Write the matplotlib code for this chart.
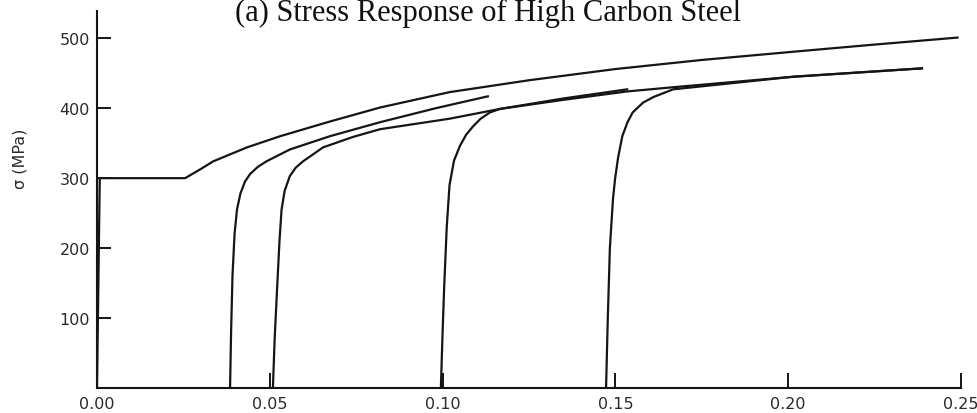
import matplotlib.pyplot as plt

# Curva monotônica (escoamento com patamar e encruamento)
eps_mono = [0.0, 0.0008, 0.0255, 0.0300, 0.0336, 0.0434, 0.0530, 0.0674,
            0.0819, 0.1020, 0.1250, 0.1500, 0.1750, 0.2020, 0.2250, 0.2490]
sig_mono = [0, 300, 300, 313, 324, 344, 360, 381,
            401, 423, 440, 456, 469, 481, 491, 501]

# Recarregamentos após pré-deformação
eps_a = [0.0385, 0.0388, 0.0392, 0.0398, 0.0405, 0.0415, 0.0428, 0.0443,
         0.0465, 0.0490, 0.0558, 0.0674, 0.0819, 0.0980, 0.1131]
sig_a = [0, 80, 160, 220, 255, 278, 295, 306,
         316, 324, 341, 360, 380, 400, 417]

eps_b = [0.0509, 0.0514, 0.0521, 0.0528, 0.0534, 0.0543, 0.0558, 0.0575,
         0.0596, 0.0654, 0.0741, 0.0819, 0.1020, 0.1166, 0.1350, 0.1534]
sig_b = [0, 70, 141, 210, 255, 282, 303, 315,
         324, 344, 359, 370, 385, 399, 414, 427]

eps_c = [0.0995, 0.1000, 0.1005, 0.1012, 0.1020, 0.1033, 0.1050, 0.1068,
         0.1088, 0.1110, 0.1137, 0.1166, 0.1350, 0.1534, 0.1667, 0.2014, 0.2387]
sig_c = [0, 80, 150, 230, 290, 325, 346, 362,
         374, 385, 394, 399, 412, 424, 430, 445, 457]

eps_d = [0.1473, 0.1478, 0.1484, 0.1493, 0.1499, 0.1508, 0.1520, 0.1535,
         0.1550, 0.1580, 0.1610, 0.1667, 0.2014, 0.2387]
sig_d = [0, 100, 200, 270, 299, 330, 360, 380,
         394, 408, 416, 427, 445, 457]

x_ticks = [0.00, 0.05, 0.10, 0.15, 0.20, 0.25]
x_labels = ["0.00", "0.05", "0.10", "0.15", "0.20", "0.25"]
y_ticks = [100, 200, 300, 400, 500]

fig = plt.figure(figsize=(9.77, 4.14), dpi=100)
ax = fig.add_axes([97 / 977, 1 - 389 / 414, 864 / 977, 377 / 414])

cor = "#151515"
for e, s in [(eps_mono, sig_mono), (eps_a, sig_a), (eps_b, sig_b),
             (eps_c, sig_c), (eps_d, sig_d)]:
    ax.plot(e, s, color=cor, lw=1.6, solid_joinstyle="round")

ax.set_xlim(0, 0.25)
ax.set_ylim(0, 539)
ax.set_xticks(x_ticks)
ax.set_xticklabels(x_labels)
ax.set_yticks(y_ticks)

for lado in ["top", "right"]:
    ax.spines[lado].set_visible(False)
for lado in ["left", "bottom"]:
    ax.spines[lado].set_linewidth(1.5)
    ax.spines[lado].set_color(cor)

ax.tick_params(axis="both", direction="in", width=1.4, color=cor,
               labelsize=11.5, labelcolor="#2a2a2a")
ax.tick_params(axis="x", length=11, pad=6)
ax.tick_params(axis="y", length=10, pad=5)

ax.set_ylabel("σ (MPa)", fontsize=11.5, color="#2a2a2a")
ax.yaxis.set_label_coords(-0.081, 0.61)

fig.text(0.5, 1 - 21 / 414, "(a) Stress Response of High Carbon Steel",
         ha="center", va="baseline", fontsize=22,
         family="Liberation Serif", color="#111111")

fig.savefig("out.png", dpi=100)
